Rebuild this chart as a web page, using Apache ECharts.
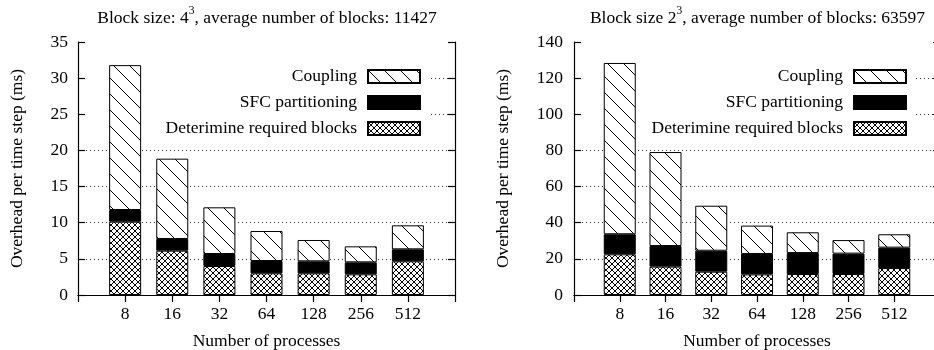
<!DOCTYPE html>
<html>
<head>
<meta charset="utf-8">
<script src="https://cdn.jsdelivr.net/npm/echarts@6.0.0/dist/echarts.min.js"></script>
<style>
html,body{margin:0;padding:0;background:#fff;}
#chart{width:934px;height:350px;}
</style>
</head>
<body>
<div id="chart"></div>
<script>
// ---- data ----
var categories = ['8', '16', '32', '64', '128', '256', '512'];
var seriesNames = ['Deterimine required blocks', 'SFC partitioning', 'Coupling'];
var legendOrder = ['Coupling', 'SFC partitioning', 'Deterimine required blocks'];

// Left: block size 4^3
var leftDetermine = [10.14, 6.13, 4.01, 3.0, 3.0, 2.86, 4.66];
var leftSfc       = [1.62, 1.62, 1.66, 1.70, 1.66, 1.66, 1.66];
var leftCoupling  = [20.04, 11.11, 6.46, 4.15, 2.95, 2.21, 3.32];
var leftTicks = [0, 35, 5];
var leftFullGridUpTo = 20;   // grid lines above this are hidden behind the key

// Right: block size 2^3
var rightDetermine = [22.5, 15.7, 12.9, 11.4, 11.6, 11.6, 14.9];
var rightSfc       = [11.1, 11.4, 11.6, 11.3, 11.6, 11.3, 11.3];
var rightCoupling  = [94.8, 52.0, 24.9, 15.7, 11.5, 7.5, 7.4];
var rightTicks = [0, 140, 20];
var rightFullGridUpTo = 80;

var leftTitle = '{t|Block size: 4}{s|3}{t|, average number of blocks: 11427}';
var rightTitle = '{t|Block size 2}{s|3}{t|, average number of blocks: 63597}';
var yName = 'Overhead per time step (ms)';
var xName = 'Number of processes';

// ---- patterns ----
function hatchPattern() {
  var c = document.createElement('canvas');
  c.width = 16; c.height = 16;
  var ctx = c.getContext('2d');
  ctx.fillStyle = '#fff'; ctx.fillRect(0, 0, 16, 16);
  ctx.fillStyle = '#000';
  for (var i = 0; i < 16; i++) ctx.fillRect(i, i, 1, 1);
  return { image: c, repeat: 'repeat' };
}
function crossPattern() {
  var n = 6;
  var c = document.createElement('canvas');
  c.width = n; c.height = n;
  var ctx = c.getContext('2d');
  ctx.fillStyle = '#fff'; ctx.fillRect(0, 0, n, n);
  ctx.fillStyle = '#000';
  for (var i = 0; i < n; i++) { ctx.fillRect(i, i, 1, 1); ctx.fillRect(n - 1 - i, i, 1, 1); }
  return { image: c, repeat: 'repeat' };
}
var fills = [crossPattern(), '#000', hatchPattern()];

var FONT = 'Liberation Serif';
var FS = 17.5;
var GRIDC = '#333';
var NONE = 'rgba(0,0,0,0)';

var pad = function (a) { return [null].concat(a, [null]); };
var padCats = [''].concat(categories, ['']);

// colours for split lines (one per tick from min): full lines / key-side segments
function splitColors(t, upTo, partial) {
  var out = [];
  for (var v = t[0]; v <= t[1] + 1e-9; v += t[2]) {
    var low = v <= upTo;
    var top = v >= t[1];
    if (partial) out.push(!low && !top ? GRIDC : NONE);
    else out.push(low ? GRIDC : NONE);
  }
  return out;
}

var chart = echarts.init(document.getElementById('chart'), null, { renderer: 'canvas' });

var grids = [
  { left: 78, top: 42, width: 377, height: 253, outerBoundsMode: 'none', containLabel: false },
  { left: 574, top: 42, width: 366, height: 253, outerBoundsMode: 'none', containLabel: false },
  { left: 431, top: 42, width: 24, height: 253, outerBoundsMode: 'none', containLabel: false },
  { left: 916, top: 42, width: 24, height: 253, outerBoundsMode: 'none', containLabel: false }
];
var lineStyleAxis = { color: '#000', width: 1.2 };

function xAxes(gi) {
  return [
    {
      type: 'category', gridIndex: gi, data: padCats, boundaryGap: false, position: 'bottom',
      axisLine: { show: true, lineStyle: lineStyleAxis },
      axisTick: { show: false },
      axisLabel: { interval: 0, margin: 10, color: '#000', fontFamily: FONT, fontSize: FS },
      splitLine: { show: false },
      name: xName, nameLocation: 'middle', nameGap: 37,
      nameTextStyle: { color: '#000', fontFamily: FONT, fontSize: FS }
    },
    {
      type: 'category', gridIndex: gi, data: padCats, boundaryGap: false, position: 'top',
      axisLine: { show: true, lineStyle: lineStyleAxis },
      axisTick: { show: true, inside: true, length: 7, interval: 0, lineStyle: lineStyleAxis },
      axisLabel: { show: false }, splitLine: { show: false }
    }
  ];
}
function yAxes(gi, t, upTo, gap, lm) {
  return [
    {
      type: 'value', gridIndex: gi, min: t[0], max: t[1], interval: t[2], position: 'left',
      axisLine: { show: true, lineStyle: lineStyleAxis },
      axisTick: { show: true, inside: true, length: 7, lineStyle: lineStyleAxis },
      axisLabel: { margin: lm, color: '#000', fontFamily: FONT, fontSize: FS },
      splitLine: { show: true, lineStyle: { color: splitColors(t, upTo, false), width: 1, type: [1, 3] } },
      name: yName, nameLocation: 'middle', nameGap: gap, nameRotate: 90,
      nameTextStyle: { color: '#000', fontFamily: FONT, fontSize: FS }
    },
    {
      type: 'value', gridIndex: gi, min: t[0], max: t[1], interval: t[2], position: 'right',
      axisLine: { show: true, lineStyle: lineStyleAxis },
      axisTick: { show: true, inside: true, length: 7, lineStyle: lineStyleAxis },
      axisLabel: { show: false }, splitLine: { show: false }
    }
  ];
}
// small grids to the right of each key, carrying only the upper grid-line segments
function segX(gi) {
  return { type: 'value', gridIndex: gi, min: 0, max: 1, show: false };
}
function segY(gi, t, upTo) {
  return {
    type: 'value', gridIndex: gi, min: t[0], max: t[1], interval: t[2],
    axisLine: { show: false }, axisTick: { show: false }, axisLabel: { show: false },
    splitLine: { show: true, lineStyle: { color: splitColors(t, upTo, true), width: 1, type: [1, 3] } }
  };
}

function barSeries(gi, arrs, stack) {
  return arrs.map(function (arr, k) {
    return {
      type: 'bar', name: seriesNames[k], stack: stack,
      xAxisIndex: gi * 2, yAxisIndex: gi * 2,
      data: pad(arr), barWidth: 32, z: 2,
      itemStyle: { color: fills[k], borderColor: '#000', borderWidth: 1 },
      emphasis: { disabled: true }, animation: false
    };
  });
}

function legend(iconRight) {
  return {
    orient: 'vertical', right: 934 - iconRight, top: 67.5, align: 'right', padding: 0,
    itemWidth: 52, itemHeight: 13, itemGap: 8, icon: 'rect',
    data: legendOrder, selectedMode: false,
    textStyle: { color: '#000', fontFamily: FONT, fontSize: FS, padding: [0, 6, 0, 0] }
  };
}

var richStyle = {
  t: { fontFamily: FONT, fontSize: FS, fontWeight: 'normal', color: '#000', lineHeight: 22, verticalAlign: 'bottom' },
  s: { fontFamily: FONT, fontSize: 11.5, fontWeight: 'normal', color: '#000', lineHeight: 11, verticalAlign: 'top' }
};

var option = {
  animation: false,
  backgroundColor: '#fff',
  title: [
    { text: leftTitle, left: 262, top: 0, textAlign: 'center', textStyle: { fontWeight: 'normal', rich: richStyle } },
    { text: rightTitle, left: 752.5, top: 0, textAlign: 'center', textStyle: { fontWeight: 'normal', rich: richStyle } }
  ],
  grid: grids,
  legend: [legend(421), legend(907)],
  xAxis: xAxes(0).concat(xAxes(1), [segX(2), segX(3)]),
  yAxis: yAxes(0, leftTicks, leftFullGridUpTo, 52, 10)
    .concat(yAxes(1, rightTicks, rightFullGridUpTo, 62, 11),
            [segY(2, leftTicks, leftFullGridUpTo), segY(3, rightTicks, rightFullGridUpTo)]),
  series: barSeries(0, [leftDetermine, leftSfc, leftCoupling], 'L')
    .concat(barSeries(1, [rightDetermine, rightSfc, rightCoupling], 'R'))
};
chart.setOption(option);
</script>
</body>
</html>
